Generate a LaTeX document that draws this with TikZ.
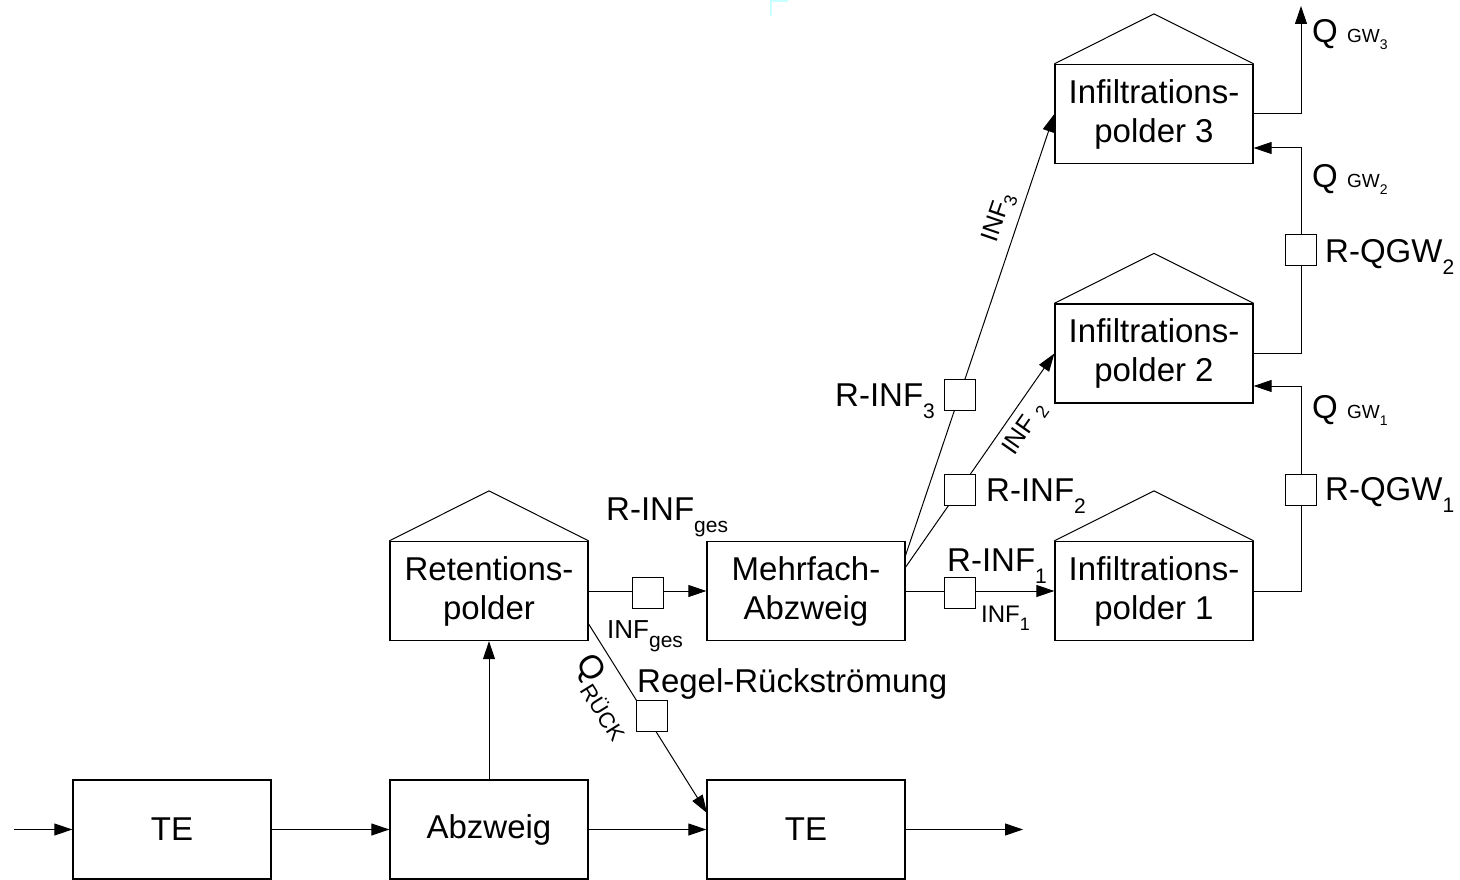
\documentclass[tikz,border=0pt]{standalone}
\usepackage{fontspec}
\setmainfont{Liberation Sans}
\usetikzlibrary{arrows.meta}
\newcommand\lowtxt[3]{\raisebox{-#1pt}{\fontsize{#2}{#2}\selectfont #3}}
\begin{document}
\begin{tikzpicture}[x=1pt,y=-1pt,
  blk/.style={draw,line width=1.3pt,minimum width=198pt,minimum height=99pt,inner sep=0pt,align=center,font=\fontsize{33}{39}\selectfont},
  sq/.style={draw,line width=1pt,fill=white,minimum size=31pt,inner sep=0pt},
  con/.style={line width=1pt},
  arr/.style={con,-{Triangle[length=18pt,width=12pt]}},
  lbl/.style={inner sep=0pt,anchor=base west,font=\fontsize{33}{39}\selectfont},
  rlbl/.style={inner sep=0pt,anchor=center,font=\fontsize{25}{30}\selectfont},
  roof/.style={line width=1pt}]
\useasboundingbox (0,0) rectangle (1460,880);
% artefact mark
\draw[line width=2.5pt,color={rgb,255:red,200;green,255;blue,255}] (771,16) -- (771,1) -- (788,1);
% boxes
\node[blk] (te1) at (172,829.5) {TE};
\node[blk] (abz) at (489,829.5) {Abzweig};
\node[blk] (te2) at (806,829.5) {TE};
\node[blk] (ret) at (489,591) {\raisebox{-2pt}{Retentions-}\\\raisebox{-2pt}{polder}};
\node[blk] (mfa) at (806,591) {\raisebox{-2pt}{Mehrfach-}\\\raisebox{-2pt}{Abzweig}};
\node[blk] (ip1) at (1154,591) {\raisebox{-2pt}{Infiltrations-}\\\raisebox{-2pt}{polder 1}};
\node[blk] (ip2) at (1154,353.5) {\raisebox{-2pt}{Infiltrations-}\\\raisebox{-2pt}{polder 2}};
\node[blk] (ip3) at (1154,114) {\raisebox{-2pt}{Infiltrations-}\\\raisebox{-2pt}{polder 3}};
% roofs
\foreach \b in {ret,ip1,ip2,ip3}
  \draw[roof] (\b.north west) -- ([yshift=50pt]\b.north) -- (\b.north east);
% free ends
\coordinate (in) at (14,829.5);
\coordinate (out) at (1023,829.5);
\coordinate (rq) at (588,623);
\coordinate (te2in) at (707,813);
\coordinate (m2) at (905,568);
\coordinate (m3) at (905,557);
\coordinate (r1) at (1301,386);
\coordinate (r2) at (1301,148);
\coordinate (r3) at (1301,6);
% connectors
\draw[arr] (in) -- (te1.west);
\draw[arr] (te1.east) -- (abz.west);
\draw[arr] (abz.east) -- (te2.west);
\draw[arr] (te2.east) -- (out);
\draw[arr] (abz.north) -- (ret.south);
\draw[arr] (ret.east) -- (mfa.west);
\draw[arr] (rq) -- (te2in);
\draw[arr] (mfa.east) -- (ip1.west);
\draw[arr] (m2) -- (ip2.west);
\draw[arr] (m3) -- (ip3.west);
\draw[arr] (ip1.east) -| (r1) -- (r1 -| ip2.east);
\draw[arr] (ip2.east) -| (r2) -- (r2 -| ip3.east);
\draw[arr] (ip3.east) -| (r3);
% squares
\node[sq] (sges) at (648,593) {};
\node[sq] (sr) at (652,716) {};
\node[sq] (s1) at (960,593) {};
\node[sq] (s2) at (960,490) {};
\node[sq] (s3) at (960,395) {};
\node[sq] (sq1) at (1301,490) {};
\node[sq] (sq2) at (1301,250) {};
% labels
\node[lbl] (lrges) at (606,520) {R-INF\lowtxt{12}{21}{ges}};
\node[lbl,font=\fontsize{26}{30}\selectfont] (liges) at (607,638) {INF\lowtxt{9}{21}{ges}};
\node[lbl] (lr1) at (947,571) {R-INF\lowtxt{12}{21}{1}};
\node[lbl,font=\fontsize{24}{28}\selectfont] (li1) at (981,622) {INF\lowtxt{8}{18}{1}};
\node[lbl] (lr2) at (986,501) {R-INF\lowtxt{12}{21}{2}};
\node[lbl] (lr3) at (835,406) {R-INF\lowtxt{12}{21}{3}};
\node[lbl] (lregel) at (637,692) {Regel-Rückströmung};
\node[lbl] (lq1) at (1312,418) {Q \fontsize{19}{22}\selectfont GW\lowtxt{7}{14}{1}};
\node[lbl] (lq2) at (1312,187) {Q \fontsize{19}{22}\selectfont GW\lowtxt{7}{14}{2}};
\node[lbl] (lq3) at (1312,43) {Q \fontsize{19}{22}\selectfont GW\lowtxt{7}{14}{3}};
\node[lbl] (lrq1) at (1325,500) {R-QGW\lowtxt{12}{21}{1}};
\node[lbl] (lrq2) at (1325,262) {R-QGW\lowtxt{12}{21}{2}};
\node[rlbl,rotate=71] (li3) at (999,218) {INF\lowtxt{6}{18}{3}};
\node[rlbl,rotate=55] (li2) at (1025,429) {INF \lowtxt{4}{18}{2}};
\node[rlbl,rotate=-58,font=\fontsize{33}{39}\selectfont] (lqr) at (604,697) {Q\lowtxt{11}{22}{RÜCK}};
\end{tikzpicture}
\end{document}
